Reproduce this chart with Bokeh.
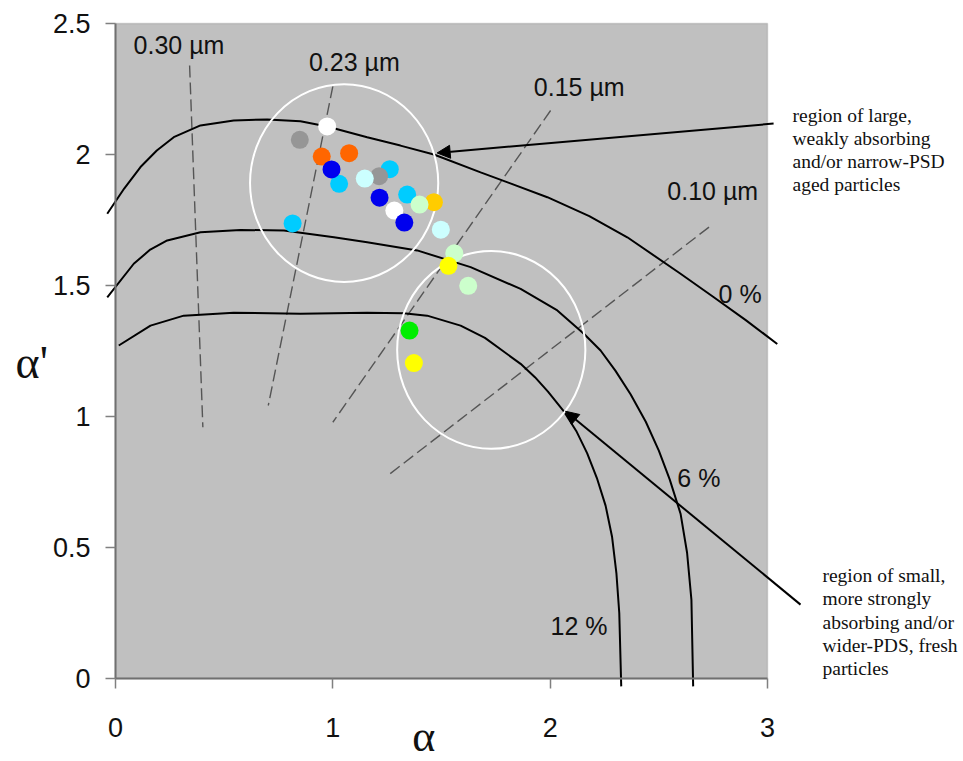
from bokeh.plotting import figure
from bokeh.models import (Range1d, FixedTicker, NumeralTickFormatter, Label,
                          Arrow, NormalHead, LinearAxis, BoxAnnotation)
from bokeh.embed import file_html
from bokeh.resources import INLINE

# --- measured Angstrom exponent (alpha) vs. its derivative (alpha') ---
cyan_a = [1.029, 1.262, 1.342, 0.815]
cyan_d = [1.888, 1.944, 1.847, 1.737]
gray_a = [0.848, 1.213]
gray_d = [2.056, 1.917]
lcyan_a = [1.147, 1.497]
lcyan_d = [1.908, 1.713]
white_a = [0.974, 1.283]
white_d = [2.107, 1.786]
orange_a = [0.949, 1.075]
orange_d = [1.992, 2.005]
blue_a = [0.994, 1.215, 1.329]
blue_d = [1.943, 1.835, 1.740]
gold_a = [1.465]
gold_d = [1.818]
lgreen_a = [1.399, 1.559, 1.623]
lgreen_d = [1.809, 1.623, 1.499]
yellow_a = [1.532, 1.373]
yellow_d = [1.575, 1.204]
green_a = [1.353]
green_d = [1.328]

# --- model curves for fine-mode fraction with 0 %, 6 %, 12 % absorption ---
c0_a = [-0.038, 0.040, 0.115, 0.190, 0.268, 0.391, 0.544, 0.698, 0.851, 0.974,
        1.158, 1.311, 1.465, 1.680, 1.987, 2.180, 2.355, 2.600, 2.753, 2.900,
        3.045]
c0_d = [1.774, 1.870, 1.952, 2.015, 2.066, 2.111, 2.130, 2.134, 2.127, 2.107,
        2.066, 2.034, 2.000, 1.932, 1.837, 1.765, 1.684, 1.545, 1.455, 1.368,
        1.277]
c6_a = [-0.038, 0.084, 0.160, 0.238, 0.391, 0.575, 0.775, 1.005, 1.158, 1.388,
        1.634, 1.864, 2.033, 2.155, 2.232, 2.300, 2.370, 2.440, 2.500, 2.550,
        2.600, 2.630, 2.650, 2.658]
c6_d = [1.455, 1.583, 1.637, 1.672, 1.703, 1.712, 1.710, 1.684, 1.665, 1.634,
        1.570, 1.487, 1.405, 1.316, 1.252, 1.175, 1.085, 0.980, 0.870, 0.760,
        0.629, 0.480, 0.300, -0.030]
c12_a = [0.015, 0.161, 0.314, 0.544, 0.851, 1.158, 1.326, 1.434, 1.588, 1.700,
         1.864, 1.930, 1.990, 2.063, 2.120, 2.170, 2.215, 2.255, 2.285, 2.305,
         2.318, 2.327]
c12_d = [1.271, 1.347, 1.385, 1.396, 1.392, 1.396, 1.394, 1.385, 1.347, 1.300,
         1.201, 1.150, 1.095, 1.020, 0.945, 0.860, 0.765, 0.660, 0.540, 0.400,
         0.250, -0.030]

# --- fine-mode radius isolines (start / end) ---
radius_labels = ["0.30 \u00b5m", "0.23 \u00b5m", "0.15 \u00b5m", "0.10 \u00b5m"]
iso_a0 = [0.341, 1.000, 2.002, 2.731]
iso_d0 = [2.340, 2.260, 2.168, 1.723]
iso_a1 = [0.402, 0.703, 1.000, 1.247]
iso_d1 = [0.959, 1.042, 0.978, 0.771]
radius_label_a = [0.083, 0.890, 1.925, 2.539]
radius_label_d = [2.384, 2.318, 2.225, 1.827]

frac_labels = ["0 %", "6 %", "12 %"]
frac_label_a = [2.775, 2.585, 2.002]
frac_label_d = [1.436, 0.730, 0.168]

# --- highlighted regions (centre, width, height) ---
region_a = [1.052, 1.729]
region_d = [1.891, 1.254]
region_w = [0.866, 0.866]
region_h = [0.755, 0.755]

x_ticks = [0, 1, 2, 3]
y_ticks = [0, 0.5, 1, 1.5, 2, 2.5]

note_large = ["region of large,", "weakly absorbing",
              "and/or narrow-PSD", "aged particles"]
note_small = ["region of small,", "more strongly", "absorbing and/or",
              "wider-PDS, fresh", "particles"]

# The frame spans the whole canvas so that notes, arrows and axis titles
# outside the grey panel are not clipped; the axes sit at alpha = 0 / alpha' = 0.
W, H = 963, 761
PX_X = 217.33          # pixels per unit of alpha
PX_Y = 262.0           # pixels per unit of alpha'
X0, Y0 = 115, 678      # canvas position of the origin
x_lo = -X0 / PX_X
x_hi = (W - X0) / PX_X
y_lo = -(H - Y0) / PX_Y
y_hi = Y0 / PX_Y


def lift(font_px):
    """Baseline correction (in alpha' units) for a label of the given size."""
    return 0.35 * font_px / PX_Y


p = figure(width=W, height=H,
           x_range=Range1d(x_lo, x_hi), y_range=Range1d(y_lo, y_hi),
           x_axis_location=None, y_axis_location=None,
           output_backend="svg", toolbar_location=None,
           min_border=0)
p.background_fill_color = "white"
p.border_fill_color = "white"
p.outline_line_color = None
p.xgrid.visible = False
p.ygrid.visible = False

# grey data panel
p.add_layout(BoxAnnotation(left=0, right=3, bottom=0, top=2.5,
                           fill_color="#c0c0c0", fill_alpha=1,
                           line_color="#808080", line_width=1.5,
                           level="underlay"))

xaxis = LinearAxis(fixed_location=0, bounds=(0, 3))
yaxis = LinearAxis(fixed_location=0, bounds=(0, 2.5))
p.add_layout(xaxis, "below")
p.add_layout(yaxis, "left")
for ax, ticks in ((xaxis, x_ticks), (yaxis, y_ticks)):
    ax.ticker = FixedTicker(ticks=ticks)
    ax.formatter = NumeralTickFormatter(format="0.[0]")
    ax.axis_line_color = "#707070"
    ax.axis_line_width = 2
    ax.major_tick_line_color = "#808080"
    ax.major_tick_line_width = 1.5
    ax.major_tick_out = 10
    ax.major_tick_in = 0
    ax.minor_tick_line_color = None
    ax.major_label_text_font = "Liberation Sans"
    ax.major_label_text_font_size = "27px"
    ax.major_label_text_color = "#111111"
xaxis.major_label_standoff = 29
yaxis.major_label_standoff = 15

# isolines of constant fine-mode radius
for a0, d0, a1, d1 in zip(iso_a0, iso_d0, iso_a1, iso_d1):
    p.line([a0, a1], [d0, d1], line_color="#555555", line_width=1.4,
           line_dash="12 5")

# absorption curves
for ca, cd in ((c0_a, c0_d), (c6_a, c6_d), (c12_a, c12_d)):
    p.line(ca, cd, line_color="black", line_width=2)

# region circles
p.ellipse(x=region_a, y=region_d, width=region_w, height=region_h,
          fill_alpha=0, line_color="white", line_width=2)

# observations
series = [
    (cyan_a, cyan_d, "#00ccff"),
    (gray_a, gray_d, "#969696"),
    (lcyan_a, lcyan_d, "#ccffff"),
    (white_a, white_d, "#ffffff"),
    (orange_a, orange_d, "#ff6600"),
    (blue_a, blue_d, "#0000ee"),
    (gold_a, gold_d, "#ffcc00"),
    (lgreen_a, lgreen_d, "#ccffcc"),
    (yellow_a, yellow_d, "#ffff00"),
    (green_a, green_d, "#00ee00"),
]
for xa, yd, col in series:
    p.scatter(xa, yd, size=18, fill_color=col, line_color=None)

# curve and isoline labels
for txt, a, d in zip(radius_labels + frac_labels,
                     radius_label_a + frac_label_a,
                     radius_label_d + frac_label_d):
    p.add_layout(Label(x=a, y=d + lift(25), text=txt,
                       text_font="Liberation Sans",
                       text_font_size="25px", text_color="#111111",
                       text_baseline="alphabetic"))

# axis titles
p.add_layout(Label(x=-0.46, y=1.145 + lift(46), text="\u03b1'",
                   text_font="Liberation Serif",
                   text_font_size="46px", text_color="#111111",
                   text_baseline="alphabetic"))
p.add_layout(Label(x=1.365, y=-0.281 + lift(44), text="\u03b1",
                   text_font="Liberation Serif",
                   text_font_size="44px", text_color="#111111",
                   text_baseline="alphabetic"))

# explanatory notes with arrows
LINE = 23.3 / PX_Y
for i, line in enumerate(note_large):
    p.add_layout(Label(x=3.115, y=2.134 + lift(12.5) - LINE * i, text=line,
                       text_font="Liberation Serif", text_font_size="19.5px",
                       text_color="#111111", text_baseline="alphabetic"))
for i, line in enumerate(note_small):
    p.add_layout(Label(x=3.253, y=0.374 + lift(14) - LINE * i, text=line,
                       text_font="Liberation Serif", text_font_size="19.5px",
                       text_color="#111111", text_baseline="alphabetic"))

p.add_layout(Arrow(x_start=3.028, y_start=2.118, x_end=1.480, y_end=2.006,
                   line_color="black", line_width=2,
                   end=NormalHead(size=13, fill_color="black", line_color="black")))
p.add_layout(Arrow(x_start=3.152, y_start=0.282, x_end=2.071, y_end=1.020,
                   line_color="black", line_width=2,
                   end=NormalHead(size=13, fill_color="black", line_color="black")))

open("out.html", "w").write(file_html(p, INLINE))
